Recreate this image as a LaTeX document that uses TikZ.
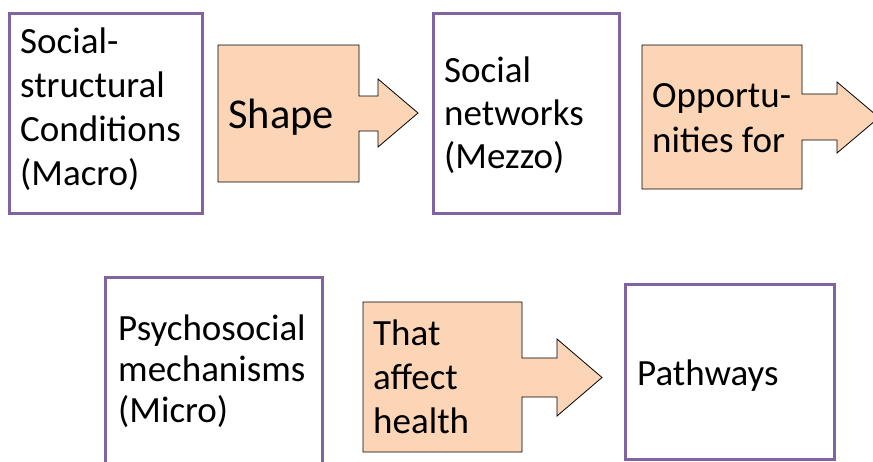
\documentclass[tikz,border=0pt]{standalone}
\usepackage{fontspec}
\setmainfont{Carlito}
\definecolor{boxpurple}{HTML}{8064A2}
\definecolor{peach}{HTML}{FBD5B5}
\begin{document}
\begin{tikzpicture}[x=1pt,y=-1pt,
  pbox/.style={draw=boxpurple, line width=3pt, fill=white},
  callout/.style={draw=black, line width=0.8pt, fill=peach, line join=miter},
  lbl/.style={anchor=base west, inner sep=0pt, align=left, font=\fontsize{37}{44}\selectfont},
  biglbl/.style={anchor=base west, inner sep=0pt, font=\fontsize{42.5}{48}\selectfont}]
\useasboundingbox (0,0) rectangle (873,461);
% boxes
\draw[pbox] (9,13) rectangle (202,213);
\draw[pbox] (433,13) rectangle (619,213);
\draw[pbox] (105,277) rectangle (322,470);
\draw[pbox] (625,284) rectangle (834,459);
% callout arrows
\draw[callout] (218,45) -- (359,45) -- (359,96) -- (378,96) -- (378,79) -- (418,113)
  -- (378,147) -- (378,131) -- (359,131) -- (359,182) -- (218,182) -- cycle;
\draw[callout] (642,45) -- (802,45) -- (802,94) -- (837,94) -- (837,82) -- (879,117.5)
  -- (837,153) -- (837,140) -- (802,140) -- (802,189) -- (642,189) -- cycle;
\draw[callout] (363,302) -- (522,302) -- (522,358) -- (557,358) -- (557,339) -- (602,377.5)
  -- (557,416) -- (557,397) -- (522,397) -- (522,452) -- (363,452) -- cycle;
% labels (anchored at the baseline of the last line)
\node[lbl] (t1) at (20,185) {Social-\\structural\\Conditions\\(Macro)};
\node[biglbl] (t2) at (228,128) {Shape};
\node[lbl, font=\fontsize{37}{43}\selectfont] (t3) at (444,168) {Social\\networks\\(Mezzo)};
\node[lbl, font=\fontsize{37}{45}\selectfont] (t4) at (652,152) {Opportu-\\nities for};
\node[lbl, font=\fontsize{37}{41}\selectfont] (t5) at (118,422) {Psychosocial\\mechanisms\\(Micro)};
\node[lbl] (t6) at (373,433) {That\\affect\\health};
\node[lbl] (t7) at (637,385) {Pathways};
\end{tikzpicture}
\end{document}
